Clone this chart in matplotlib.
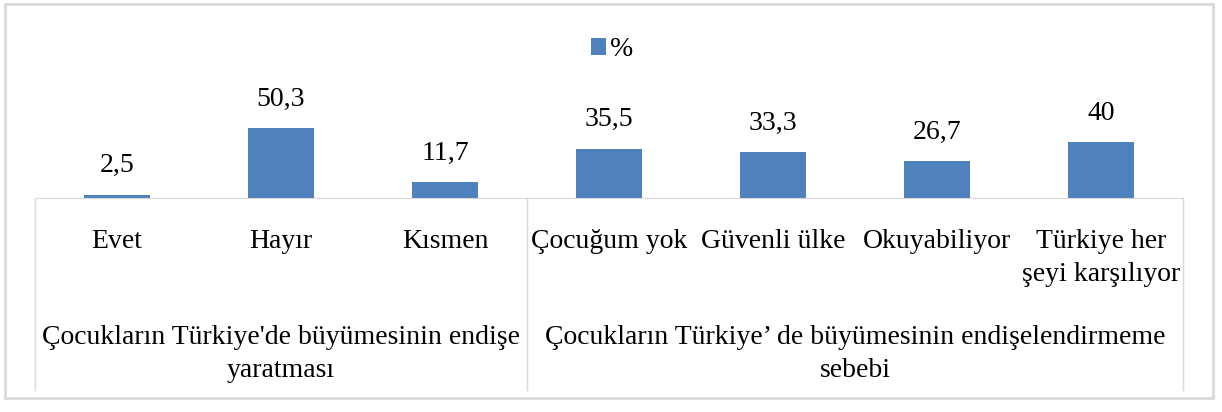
import matplotlib.pyplot as plt
from matplotlib.patches import Rectangle
from matplotlib.lines import Line2D

# data
categories = ["Evet", "Hayır", "Kısmen", "Çocuğum yok", "Güvenli ülke",
              "Okuyabiliyor", "Türkiye her\nşeyi karşılıyor"]
values = [2.5, 50.3, 11.7, 35.5, 33.3, 26.7, 40]
value_labels = ["2,5", "50,3", "11,7", "35,5", "33,3", "26,7", "40"]
groups = ["Çocukların Türkiye'de büyümesinin endişe\nyaratması",
          "Çocukların Türkiye’ de büyümesinin endişelendirmeme\nsebebi"]
group_spans = [(0, 2), (3, 6)]

plt.rcParams['font.family'] = ['Liberation Serif', 'DejaVu Serif']
bar_color = "#4f81bd"
grid_color = "#d9d9d9"
fs = 20

fig = plt.figure(figsize=(12.22, 4.12), dpi=100)
W, H = 1222, 412

def fy(py):
    return 1 - py / H

def fx(xv):
    return fig.transFigure.inverted().transform(ax.transData.transform((xv, 0)))[0]

# outer frame
fig.patches.append(Rectangle((5 / W, fy(398)), 1208 / W, 394 / H,
                             transform=fig.transFigure, fill=False,
                             edgecolor=grid_color, linewidth=2))

ax = fig.add_axes([35 / W, fy(198), 1148 / W, 128 / H])
x = range(len(categories))
ax.bar(x, values, width=0.4, color=bar_color, label="%")
for xi, v, lab in zip(x, values, value_labels):
    ax.annotate(lab, (xi, v), xytext=(0, 16), textcoords="offset points",
                ha="center", va="baseline", fontsize=fs)

ax.set_xlim(-0.5, len(categories) - 0.5)
ax.set_ylim(0, 92)
ax.set_xticks([])
ax.set_yticks([])
for s in ["top", "left", "right"]:
    ax.spines[s].set_visible(False)
ax.spines["bottom"].set_color(grid_color)

# category table under the axis
for xv in [-0.5, group_spans[0][1] + 0.5, len(categories) - 0.5]:
    fig.lines.append(Line2D([fx(xv), fx(xv)], [fy(198), fy(390)],
                            transform=fig.transFigure, color=grid_color, linewidth=1))

for xi, cat in zip(x, categories):
    for k, line in enumerate(cat.split("\n")):
        fig.text(fx(xi), fy(248 + 33 * k), line, ha="center", va="baseline",
                 fontsize=fs)

for (a, b), g in zip(group_spans, groups):
    for k, line in enumerate(g.split("\n")):
        fig.text(fx((a + b) / 2), fy(344 + 33 * k), line, ha="center",
                 va="baseline", fontsize=fs)

fig.legend(loc="center", bbox_to_anchor=(612 / W, fy(50)), frameon=False,
           fontsize=fs, handlelength=0.55, handleheight=0.55, handletextpad=0.15)

fig.savefig("out.png", dpi=100)
